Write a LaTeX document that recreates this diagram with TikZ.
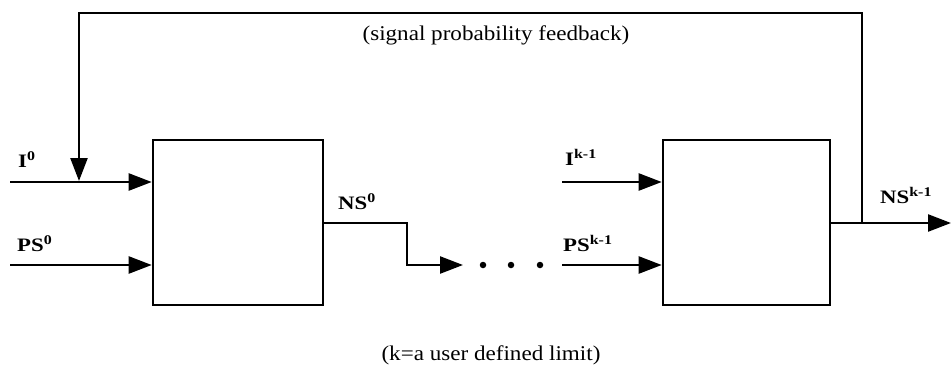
\documentclass[tikz,border=0pt]{standalone}
\usepackage{fontspec}
\setmainfont{Liberation Serif}
\usetikzlibrary{arrows.meta}

\tikzset{
  blk/.style={draw, line width=2.6pt, minimum width=170pt, minimum height=165pt, inner sep=0pt},
  wire/.style={line width=2.4pt},
  sig/.style={wire, -{Triangle[length=23pt, width=17pt]}},
  lbl/.style={anchor=base west, inner sep=0pt,
    font=\fontsize{19}{23}\selectfont\addfontfeatures{FakeStretch=1.2}\bfseries},
  note/.style={inner sep=0pt,
    font=\fontsize{21}{25}\selectfont\addfontfeatures{FakeStretch=1.1}},
  dotmark/.style={circle, fill, inner sep=0pt, minimum size=6.5pt}
}

\begin{document}
\begin{tikzpicture}[x=1pt, y=-1pt]
  \useasboundingbox (0,0) rectangle (951,375);

  % the two blocks of the chain
  \node[blk] (b0) at (238,222.5) {};
  \node[blk, minimum width=167pt] (b1) at (746.5,222.5) {};

  % inputs of the first block
  \coordinate (i0) at (10,182);
  \coordinate (ps0) at (10,265);
  \draw[sig] (i0) -- (b0.west |- i0);
  \draw[sig] (ps0) -- (b0.west |- ps0);
  \node[lbl] (li0) at (18,167) {I\textsuperscript{0}};
  \node[lbl] (lps0) at (17,251) {PS\textsuperscript{0}};

  % output of the first block, stepping down to the chain
  \coordinate (ns0s) at (323,223);
  \coordinate (ns0a) at (407,223);
  \coordinate (ns0b) at (407,265);
  \coordinate (ns0e) at (463,265);
  \draw[sig] (b0.east |- ns0s) -- (ns0a) -- (ns0b) -- (ns0e);
  \node[lbl] (lns0) at (338,209) {NS\textsuperscript{0}};

  % ellipsis
  \node[dotmark] (d1) at (483,265) {};
  \node[dotmark] (d2) at (511,265) {};
  \node[dotmark] (d3) at (540,265) {};

  % inputs of the last block
  \coordinate (ik) at (562,182);
  \coordinate (psk) at (562,265);
  \draw[sig] (ik) -- (b1.west |- ik);
  \draw[sig] (psk) -- (b1.west |- psk);
  \node[lbl] (lik) at (565,165) {I\textsuperscript{k-1}};
  \node[lbl] (lpsk) at (563,251) {PS\textsuperscript{k-1}};

  % output of the last block
  \coordinate (nsk) at (951,223);
  \draw[sig] (b1.east |- nsk) -- (nsk);
  \node[lbl] (lnsk) at (880,203) {NS\textsuperscript{k-1}};

  % feedback loop back to the first input
  \coordinate (fb0) at (862,223);
  \coordinate (fb1) at (862,13);
  \coordinate (fb2) at (79,13);
  \coordinate (fb3) at (79,181);
  \draw[sig] (fb0) -- (fb1) -- (fb2) -- (fb3);

  % captions
  \node[note] (cap1) at (496,35) {(signal probability feedback)};
  \node[note] (cap2) at (491,355) {(k=a user defined limit)};
\end{tikzpicture}
\end{document}
